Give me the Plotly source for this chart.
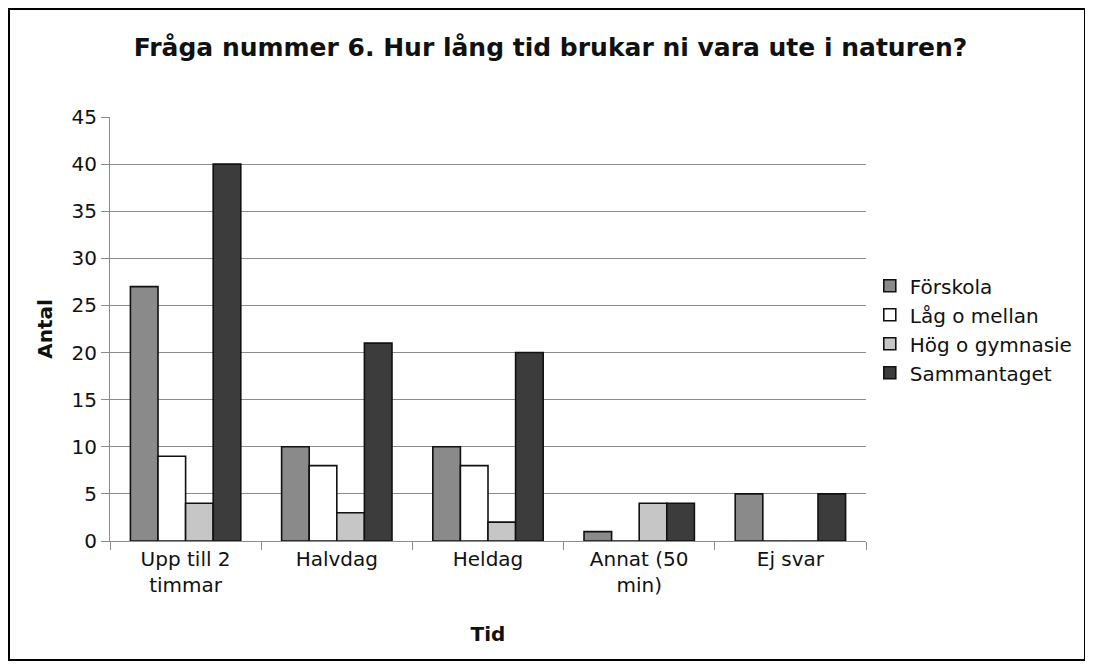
import plotly.graph_objects as go

# ── Data ─────────────────────────────────────────────────────────
categories = ["Upp till 2<br>timmar", "Halvdag", "Heldag", "Annat (50<br>min)", "Ej svar"]
forskola = [27, 10, 10, 1, 5]
lag_mellan = [9, 8, 8, 0, 0]
hog_gymnasie = [4, 3, 2, 4, 0]
sammantaget = [40, 21, 20, 4, 5]

series = [
    ("Förskola", forskola, "#8a8a8a"),
    ("Låg o mellan", lag_mellan, "#ffffff"),
    ("Hög o gymnasie", hog_gymnasie, "#c6c6c6"),
    ("Sammantaget", sammantaget, "#3c3c3c"),
]

FONT = "DejaVu Sans, Verdana, sans-serif"

# page body adds an 8px offset, so the figure is laid out in shifted coords
W, H = 1085, 659
L, R, T, B = 102, 227, 109, 126
PW, PH = W - L - R, H - T - B

fig = go.Figure()
for name, vals, color in series:
    fig.add_trace(go.Bar(
        x=categories, y=vals, name=name,
        marker=dict(color=color, line=dict(color="#111111", width=1.6)),
    ))

fig.update_layout(
    width=W, height=H,
    barmode="group", bargap=0.27, bargroupgap=0,
    paper_bgcolor="white", plot_bgcolor="white",
    font=dict(family=FONT, size=20, color="#111111"),
    margin=dict(l=L, r=R, t=T, b=B),
    title=dict(text="<b>Fråga nummer 6. Hur lång tid brukar ni vara ute i naturen?</b>",
               x=0.5, xanchor="center", y=1 - 39 / H, yanchor="middle",
               font=dict(size=25, family=FONT)),
    legend=dict(x=1.005, y=0.648, xanchor="left", yanchor="top",
                font=dict(size=20), traceorder="normal",
                itemwidth=30, tracegroupgap=0),
    showlegend=True,
)

fig.update_yaxes(
    range=[0, 45], dtick=5, showgrid=True, gridcolor="#8c8c8c", gridwidth=1,
    showline=True, linecolor="#8c8c8c", ticks="outside", ticklen=8,
    tickcolor="#8c8c8c", zeroline=False,
    title=dict(text="<b>Antal</b>", standoff=13, font=dict(size=20)),
)
fig.update_xaxes(
    showline=True, linecolor="#8c8c8c", ticks="outside", ticklen=8,
    tickcolor="#8c8c8c", tickson="boundaries",
    title=dict(text="<b>Tid</b>", standoff=30, font=dict(size=20)),
)

# outer frame around the whole chart
fig.add_shape(type="rect", xref="paper", yref="paper",
              x0=(1 - L) / PW, x1=(W - 8 - L) / PW,
              y0=(PH + T - (H - 7)) / PH, y1=(PH + T - 1) / PH,
              line=dict(color="black", width=2), layer="below")

fig.write_html("out.html")
